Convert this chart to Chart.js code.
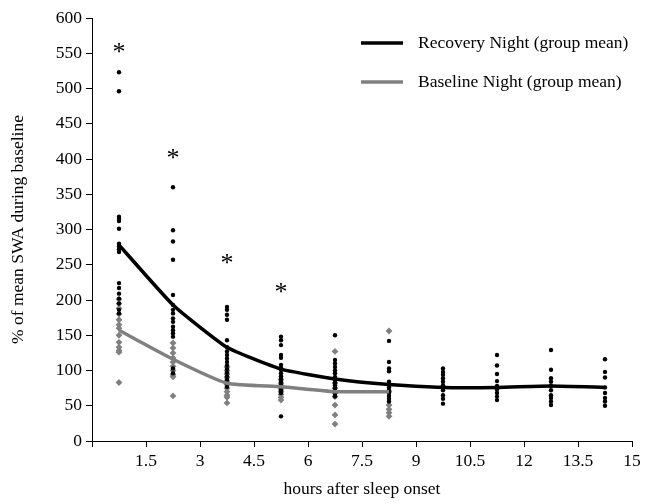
<!DOCTYPE html>
<html>
<head>
<meta charset="utf-8">
<script src="https://cdn.jsdelivr.net/npm/chart.js@4.4.1/dist/chart.umd.min.js"></script>
<style>
  html, body { margin: 0; padding: 0; background: #fff; }
  #wrap { width: 651px; height: 504px; }
</style>
</head>
<body>
<div id="wrap"><canvas id="swaChart" width="651" height="504"></canvas></div>
<script>
// hour bins (mid-points of 1.5 h intervals)
const hours = [0.75, 2.25, 3.75, 5.25, 6.75, 8.25, 9.75, 11.25, 12.75, 14.25];

const recoveryMean = [278, 193, 133, 102, 88, 80, 76, 76, 78, 76];
const baselineMean = [157, 116, 82, 77, 70, 70];

// individual subjects, one list per hour bin
const recoveryIndividual = [
    [523, 496, 318, 315, 312, 301, 280, 276, 272, 268, 224, 217, 209, 202, 195, 186, 181],
    [360, 299, 283, 257, 207, 193, 186, 181, 174, 169, 162, 157, 153, 148, 103, 96],
    [190, 186, 179, 172, 143, 133, 127, 122, 117, 112, 107, 102, 97, 92, 87, 82, 77],
    [148, 143, 136, 122, 118, 108, 104, 101, 96, 92, 88, 84, 80, 76, 72, 68, 35],
    [150, 115, 110, 105, 100, 96, 91, 87, 83, 79, 75, 71, 67, 63],
    [142, 112, 103, 99, 84, 80, 76, 72, 68, 64, 60, 56],
    [103, 98, 94, 89, 84, 79, 72, 65, 60, 53],
    [122, 107, 95, 85, 78, 73, 68, 63, 58],
    [129, 101, 89, 84, 78, 72, 65, 61, 56, 51],
    [116, 98, 90, 76, 68, 61, 56, 50]
];
const baselineIndividual = [
    [201, 195, 188, 180, 172, 165, 160, 150, 140, 133, 128, 126, 83],
    [139, 132, 125, 118, 112, 106, 100, 94, 91, 64],
    [105, 100, 95, 90, 85, 80, 75, 70, 65, 62, 54],
    [87, 82, 78, 74, 70, 66, 62, 58],
    [127, 82, 75, 68, 63, 51, 37, 24],
    [156, 70, 51, 45, 40, 35]
];

// significance markers
const starHours = [0.75, 2.25, 3.75, 5.25];
const starLevels = [557, 407, 258, 217];

const legendLabels = ['Recovery Night (group mean)', 'Baseline Night (group mean)'];

const BLACK = '#000000';
const GREY = '#808080';
const SERIF = '"Liberation Serif", "Times New Roman", serif';

function toPoints(lists) {
    return lists.flatMap((vals, i) => vals.map(v => ({ x: hours[i], y: v })));
}
function toLine(means) {
    return means.map((v, i) => ({ x: hours[i], y: v }));
}

const starPlugin = {
    id: 'stars',
    afterDatasetsDraw(chart) {
        const { ctx, scales } = chart;
        ctx.save();
        ctx.fillStyle = BLACK;
        ctx.font = '26px ' + SERIF;
        ctx.textAlign = 'center';
        ctx.textBaseline = 'alphabetic';
        const m = ctx.measureText('*');
        const mid = (m.actualBoundingBoxAscent - m.actualBoundingBoxDescent) / 2;
        starHours.forEach((h, i) => {
            ctx.fillText('*', scales.x.getPixelForValue(h), scales.y.getPixelForValue(starLevels[i]) + mid);
        });
        ctx.restore();
    }
};

const legendPlugin = {
    id: 'insideLegend',
    afterDraw(chart) {
        const { ctx, chartArea } = chart;
        const colors = [BLACK, GREY];
        const x0 = chartArea.right - 271;
        ctx.save();
        ctx.font = '17.5px ' + SERIF;
        ctx.textBaseline = 'middle';
        ctx.fillStyle = BLACK;
        legendLabels.forEach((label, i) => {
            const y = chartArea.top + 25 + i * 39;
            ctx.strokeStyle = colors[i];
            ctx.lineWidth = 3.5;
            ctx.beginPath();
            ctx.moveTo(x0, y);
            ctx.lineTo(x0 + 42, y);
            ctx.stroke();
            ctx.fillText(label, x0 + 57, y);
        });
        ctx.restore();
    }
};

const ctx = document.getElementById('swaChart').getContext('2d');
new Chart(ctx, {
    type: 'scatter',
    data: {
        datasets: [
            {
                label: legendLabels[0],
                data: toLine(recoveryMean),
                showLine: true,
                borderColor: BLACK,
                borderWidth: 3.5,
                pointRadius: 0,
                tension: 0.15,
                order: 0
            },
            {
                label: legendLabels[1],
                data: toLine(baselineMean),
                showLine: true,
                borderColor: GREY,
                borderWidth: 3.5,
                pointRadius: 0,
                tension: 0.15,
                order: 1
            },
            {
                label: 'Recovery individual',
                data: toPoints(recoveryIndividual),
                pointStyle: 'circle',
                pointRadius: 2.2,
                backgroundColor: BLACK,
                borderWidth: 0,
                order: 2
            },
            {
                label: 'Baseline individual',
                data: toPoints(baselineIndividual),
                pointStyle: 'rectRot',
                pointRadius: 3.4,
                backgroundColor: GREY,
                borderWidth: 0,
                order: 3
            }
        ]
    },
    options: {
        responsive: false,
        animation: false,
        layout: { padding: { top: 18, right: 19, bottom: 0, left: 0 } },
        plugins: {
            legend: { display: false },
            tooltip: { enabled: false }
        },
        scales: {
            x: {
                type: 'linear',
                min: 0,
                max: 15,
                afterFit: scale => { scale.height = 63; },
                ticks: {
                    stepSize: 1.5,
                    color: BLACK,
                    padding: 4,
                    maxRotation: 0,
                    font: { family: SERIF, size: 17.5 },
                    callback: v => (v === 0 ? '' : String(Math.round(v * 10) / 10))
                },
                grid: { drawOnChartArea: false, tickLength: 6, tickColor: BLACK },
                border: { color: BLACK, width: 1 },
                title: {
                    display: true,
                    text: 'hours after sleep onset',
                    color: BLACK,
                    font: { family: SERIF, size: 17.5 },
                    padding: { top: 0, bottom: 4 }
                }
            },
            y: {
                min: 0,
                max: 600,
                afterFit: scale => { scale.width = 92; },
                ticks: {
                    stepSize: 50,
                    color: BLACK,
                    padding: 4,
                    font: { family: SERIF, size: 17.5 }
                },
                grid: { drawOnChartArea: false, tickLength: 6, tickColor: BLACK },
                border: { color: BLACK, width: 1 },
                title: {
                    display: true,
                    text: '% of mean SWA during baseline',
                    color: BLACK,
                    font: { family: SERIF, size: 17.5 },
                    padding: { top: 8, bottom: 0 }
                }
            }
        }
    },
    plugins: [starPlugin, legendPlugin]
});
</script>
</body>
</html>
